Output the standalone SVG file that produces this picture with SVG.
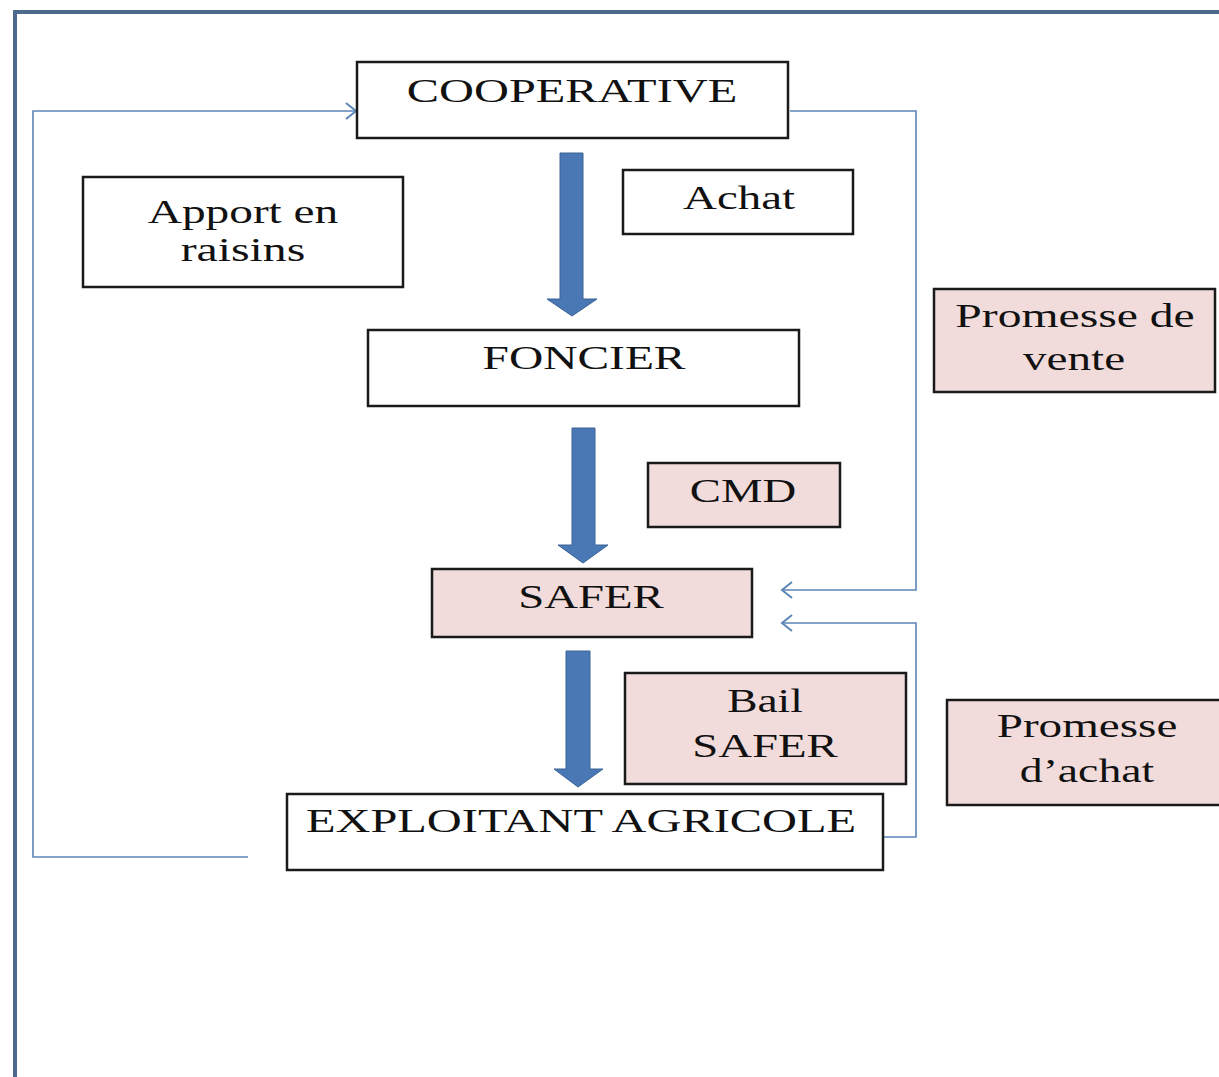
<svg xmlns="http://www.w3.org/2000/svg" width="1219" height="1077" viewBox="0 0 1219 1077">
<style>
.box{fill:#ffffff;stroke:#1a1a1a;stroke-width:2.5}
.pink{fill:#f2dcdb;stroke:#1a1a1a;stroke-width:2.5}
.t{font-family:"Liberation Serif","Times New Roman",serif;font-size:33px;fill:#111;text-anchor:middle}
.conn{fill:none;stroke:#5b86b6;stroke-width:1.6}
.block{fill:#4a78b5;stroke:#3a6296;stroke-width:1}
.frame{fill:none;stroke:#4d6a8c;stroke-width:4}
</style>
<defs>
<marker id="open" markerUnits="userSpaceOnUse" markerWidth="14" markerHeight="18" refX="12" refY="9" orient="auto">
<path d="M2,1 L12,9 L2,17" fill="none" stroke="#5b86b6" stroke-width="2"/>
</marker>
</defs>
<rect width="1219" height="1077" fill="#ffffff"/>
<path class="frame" d="M15,1077 L15,12 L1219,12"/>

<g id="connectors">
<path class="conn" d="M248,857 L33,857 L33,111 L356,111" marker-end="url(#open)"/>
<path class="conn" d="M790,111 L916,111 L916,590 L782,590" marker-end="url(#open)"/>
<path class="conn" d="M884,837 L916,837 L916,623 L782,623" marker-end="url(#open)"/>
<path class="block" d="M560,153 L583,153 L583,299 L597,299 L572,316 L547,299 L560,299 Z"/>
<path class="block" d="M572,428 L595,428 L595,545 L608,545 L583,563 L558,545 L572,545 Z"/>
<path class="block" d="M566,651 L590,651 L590,769 L603,769 L578,787 L554,769 L566,769 Z"/>
</g>

<g id="cooperative">
<rect class="box" x="357" y="62" width="431" height="76"/>
<text class="t" transform="translate(572,102) scale(1.4,1)" textLength="236" lengthAdjust="spacingAndGlyphs">COOPERATIVE</text>
</g>
<g id="apport">
<rect class="box" x="83" y="177" width="320" height="110"/>
<text class="t" transform="translate(243,223) scale(1.4,1)" textLength="136" lengthAdjust="spacingAndGlyphs">Apport en</text>
<text class="t" transform="translate(243,261) scale(1.4,1)" textLength="89" lengthAdjust="spacingAndGlyphs">raisins</text>
</g>
<g id="achat">
<rect class="box" x="623" y="170" width="230" height="64"/>
<text class="t" transform="translate(739,209) scale(1.4,1)" textLength="80" lengthAdjust="spacingAndGlyphs">Achat</text>
</g>
<g id="foncier">
<rect class="box" x="368" y="330" width="431" height="76"/>
<text class="t" transform="translate(584,369) scale(1.4,1)" textLength="145" lengthAdjust="spacingAndGlyphs">FONCIER</text>
</g>
<g id="promesse-vente">
<rect class="pink" x="934" y="289" width="281" height="103"/>
<text class="t" transform="translate(1075,327) scale(1.4,1)" textLength="171" lengthAdjust="spacingAndGlyphs">Promesse de</text>
<text class="t" transform="translate(1074,370) scale(1.4,1)" textLength="73" lengthAdjust="spacingAndGlyphs">vente</text>
</g>
<g id="cmd">
<rect class="pink" x="648" y="463" width="192" height="64"/>
<text class="t" transform="translate(743,502) scale(1.4,1)" textLength="76" lengthAdjust="spacingAndGlyphs">CMD</text>
</g>
<g id="safer">
<rect class="pink" x="432" y="569" width="320" height="68"/>
<text class="t" transform="translate(591,608) scale(1.4,1)" textLength="104" lengthAdjust="spacingAndGlyphs">SAFER</text>
</g>
<g id="bail-safer">
<rect class="pink" x="625" y="673" width="281" height="111"/>
<text class="t" transform="translate(765,712) scale(1.4,1)" textLength="54" lengthAdjust="spacingAndGlyphs">Bail</text>
<text class="t" transform="translate(765,757) scale(1.4,1)" textLength="104" lengthAdjust="spacingAndGlyphs">SAFER</text>
</g>
<g id="promesse-achat">
<rect class="pink" x="947" y="700" width="290" height="105"/>
<text class="t" transform="translate(1087,737) scale(1.4,1)" textLength="129" lengthAdjust="spacingAndGlyphs">Promesse</text>
<text class="t" transform="translate(1087,782) scale(1.4,1)" textLength="96" lengthAdjust="spacingAndGlyphs">d’achat</text>
</g>
<g id="exploitant">
<rect class="box" x="287" y="794" width="596" height="76"/>
<text class="t" transform="translate(581,832) scale(1.4,1)" textLength="393" lengthAdjust="spacingAndGlyphs">EXPLOITANT AGRICOLE</text>
</g>
</svg>
